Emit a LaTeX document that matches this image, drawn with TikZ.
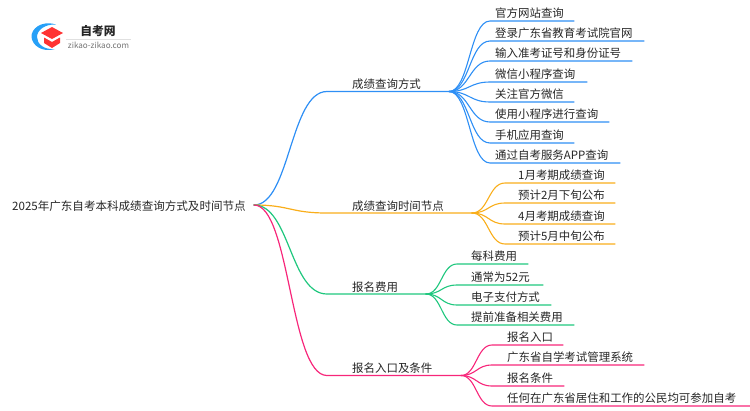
\documentclass[tikz,border=0pt]{standalone}
\usepackage{fontspec}
\setmainfont{Noto Sans CJK SC}
\usetikzlibrary{calc}
\definecolor{cblue}{HTML}{2E8FF5}
\definecolor{corange}{HTML}{F9AE1B}
\definecolor{cgreen}{HTML}{1FC77E}
\definecolor{cpink}{HTML}{F7267A}
\definecolor{ctext}{HTML}{262626}
\tikzset{
  lbl/.style={anchor=base west,inner sep=0pt,text=ctext,font=\fontsize{11.45}{13}\selectfont},
  branch/.style={line width=1.1pt,line cap=round},
  trunk/.style={line width=1.2pt,line cap=round},
}
% \leafnode{name}{colour}{hub}{hub x}{y}{text x}{line start x}{line end x}{text}
\newcommand{\leafnode}[9]{%
  \node[lbl] (#1) at (#6,#5-3.6) {#9};
  \coordinate (#1s) at (#7,#5);
  \coordinate (#1e) at (#8,#5);
  \draw[branch,#2] (#3) .. controls ($(#3)+({(#7-#4)/2},0)$) and ({(#7+#4)/2},#5) .. (#1s) -- (#1e);
}
\begin{document}
\begin{tikzpicture}[x=1pt,y=-1pt]
\useasboundingbox (0,0) rectangle (750,410);
% logo
\fill[cblue!85!cyan] (56,24.5) .. controls (41,20) and (31,29) .. (31.5,37) .. controls (32,45) and (42,53) .. (55,49) .. controls (44,50) and (37,44) .. (37,37) .. controls (37,30) and (45,24) .. (56,24.5) -- cycle;
\fill[red!80!white] (52,27) -- (63,33) -- (52,39) -- (41,33) -- cycle;
\fill[red!80!white] (44,37.5) -- (52,42) -- (60,37.5) -- (60,43) -- (52,48) -- (44,43) -- cycle;
\node[inner sep=0pt,text=ctext,font=\bfseries\fontsize{11.8}{13}\selectfont] (logot) at (98,31) {自考网};
\coordinate (rl1) at (66,39); \coordinate (rl2) at (131,39);
\draw[black!12,line width=0.5pt] (rl1) -- (rl2);
\node[inner sep=0pt,text=black!55,font=\fontsize{8.1}{9}\selectfont] (logou) at (98.5,45) {zikao-zikao.com};
% root
\node[lbl,font=\fontsize{11.55}{13}\selectfont] (root) at (12,210) {2025年广东自考本科成绩查询方式及时间节点};
\coordinate (rh) at (254,205);
% level 1
\node[lbl] (a) at (352,88.3) {成绩查询方式};
\node[lbl] (b) at (352,210.3) {成绩查询时间节点};
\node[lbl] (c) at (352,291.3) {报名费用};
\node[lbl] (d) at (352,372.6) {报名入口及条件};
\coordinate (ah) at (449,91.5);
\coordinate (bh) at (472,213);
\coordinate (ch) at (426,294);
\coordinate (dh) at (461,375.5);
\draw[trunk,cblue] (rh) .. controls (290,205) and (290,91.5) .. (327,91.5) -- (ah);
\draw[trunk,corange] (rh) .. controls (290,205) and (290,213) .. (327,213) -- (bh);
\draw[trunk,cgreen] (rh) .. controls (290,205) and (290,294) .. (327,294) -- (ch);
\draw[trunk,cpink] (rh) .. controls (290,205) and (290,375.5) .. (327,375.5) -- (dh);
% blue
\leafnode{a1}{cblue}{ah}{449}{21}{495}{490}{574}{官方网站查询}
\leafnode{a2}{cblue}{ah}{449}{41}{495}{490}{644}{登录广东省教育考试院官网}
\leafnode{a3}{cblue}{ah}{449}{61}{495}{490}{632}{输入准考证号和身份证号}
\leafnode{a4}{cblue}{ah}{449}{82}{495}{490}{587}{微信小程序查询}
\leafnode{a5}{cblue}{ah}{449}{102}{495}{490}{574}{关注官方微信}
\leafnode{a6}{cblue}{ah}{449}{122}{495}{490}{609}{使用小程序进行查询}
\leafnode{a7}{cblue}{ah}{449}{143}{495}{490}{574}{手机应用查询}
\leafnode{a8}{cblue}{ah}{449}{163}{495}{490}{620}{通过自考服务APP查询}
% orange
\leafnode{b1}{corange}{bh}{472}{183}{518}{505}{615}{1月考期成绩查询}
\leafnode{b2}{corange}{bh}{472}{203}{518}{505}{615}{预计2月下旬公布}
\leafnode{b3}{corange}{bh}{472}{224}{518}{505}{615}{4月考期成绩查询}
\leafnode{b4}{corange}{bh}{472}{244}{518}{505}{615}{预计5月中旬公布}
% green
\leafnode{c1}{cgreen}{ch}{426}{264}{471}{457}{528}{每科费用}
\leafnode{c2}{cgreen}{ch}{426}{285}{471}{457}{543}{通常为52元}
\leafnode{c3}{cgreen}{ch}{426}{305}{471}{457}{551}{电子支付方式}
\leafnode{c4}{cgreen}{ch}{426}{325}{471}{457}{574}{提前准备相关费用}
% pink
\leafnode{d1}{cpink}{dh}{461}{345}{507}{492}{563}{报名入口}
\leafnode{d2}{cpink}{dh}{461}{365}{507}{492}{644}{广东省自学考试管理系统}
\leafnode{d3}{cpink}{dh}{461}{386}{507}{492}{564}{报名条件}
\leafnode{d4}{cpink}{dh}{461}{406}{507}{492}{750}{任何在广东省居住和工作的公民均可参加自考}
\end{tikzpicture}
\end{document}
